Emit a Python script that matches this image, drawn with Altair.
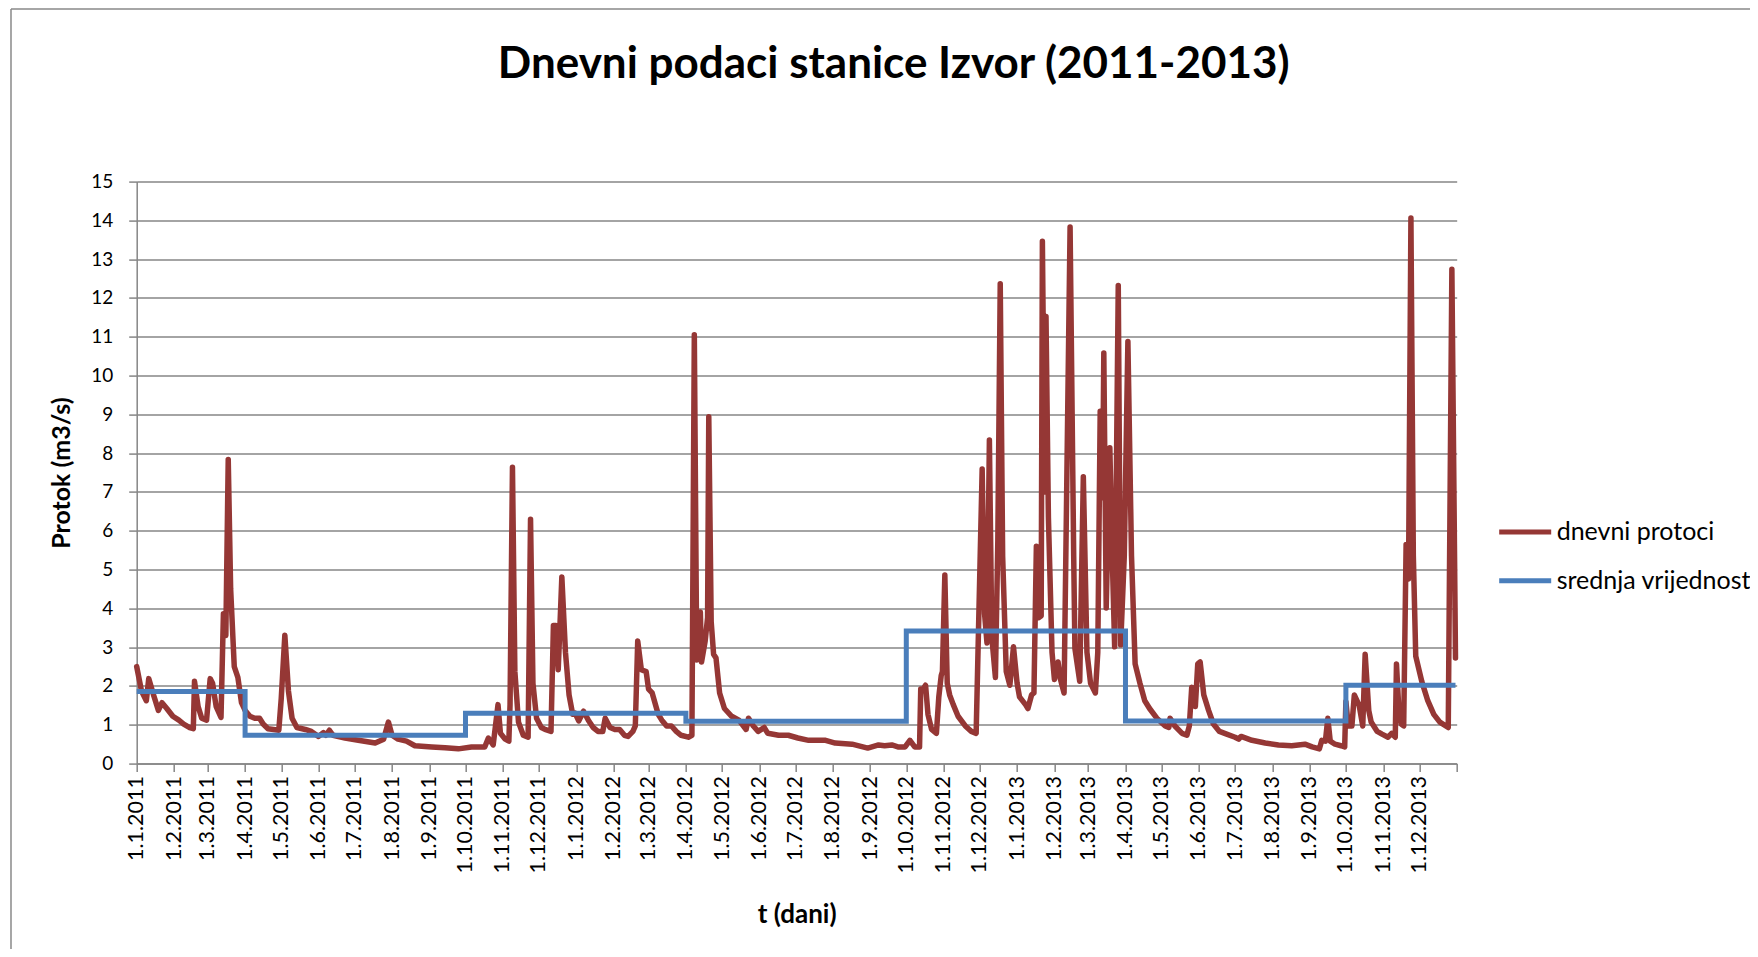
import altair as alt
import pandas as pd

title_text = "Dnevni podaci stanice Izvor (2011-2013)"
y_title = "Protok (m3/s)"
x_title = "t (dani)"
series_names = ["dnevni protoci", "srednja vrijednost"]
series_colors = ["#953735", "#4a7ebb"]
start_date = "2011-01-01"

# (day offset from 1.1.2011, daily discharge m3/s)
daily_2011 = [
    (0, 2.50), (4, 1.87), (8, 1.62), (10, 2.19), (14, 1.77), (18, 1.37), (21, 1.57),
    (25, 1.42), (30, 1.22), (35, 1.12), (39, 1.02), (44, 0.93), (47, 0.90), (48, 2.12),
    (51, 1.47), (54, 1.17), (58, 1.12), (61, 2.19), (63, 2.07), (66, 1.47), (70, 1.19),
    (72, 3.86), (74, 3.30), (76, 7.84), (78, 4.50), (81, 2.50), (84, 2.22), (87, 1.57),
    (90, 1.37), (94, 1.22), (98, 1.17), (102, 1.17), (105, 1.02), (109, 0.90), (118, 0.86),
    (120, 1.67), (123, 3.31), (126, 1.87), (129, 1.17), (133, 0.93), (140, 0.88), (145, 0.83),
    (151, 0.70), (155, 0.80), (157, 0.73), (160, 0.86), (163, 0.73), (173, 0.66), (184, 0.60),
    (198, 0.53), (205, 0.63), (209, 1.07), (212, 0.73), (217, 0.63), (224, 0.58), (231, 0.46),
    (245, 0.43), (256, 0.41), (267, 0.38), (278, 0.43), (289, 0.43), (292, 0.66), (296, 0.48),
    (300, 1.52), (302, 0.78), (306, 0.63), (309, 0.58), (310, 1.52), (312, 7.64), (314, 2.37),
    (317, 1.07), (321, 0.73), (325, 0.68), (327, 6.30), (329, 2.07), (332, 1.17), (336, 0.93),
    (339, 0.88), (344, 0.83), (346, 3.56), (348, 3.56), (350, 2.42), (353, 4.81), (356, 2.87),
    (359, 1.77), (362, 1.27), (364, 1.30),
]
daily_2012 = [
    (367, 1.10), (371, 1.35), (375, 1.12), (379, 0.93), (383, 0.83), (387, 0.83), (389, 1.17),
    (393, 0.93), (397, 0.88), (401, 0.88), (405, 0.73), (408, 0.70), (412, 0.83), (414, 0.97),
    (416, 3.16), (419, 2.42), (423, 2.37), (425, 1.92), (428, 1.82), (433, 1.27), (436, 1.12),
    (440, 0.97), (444, 0.97), (448, 0.83), (452, 0.73), (458, 0.68), (461, 0.73), (463, 11.05),
    (465, 2.67), (468, 3.91), (469, 2.62), (472, 3.16), (474, 3.76), (475, 8.94), (477, 3.66),
    (479, 2.82), (481, 2.72), (484, 1.82), (488, 1.42), (494, 1.22), (500, 1.12), (506, 0.88),
    (508, 1.17), (512, 0.97), (516, 0.83), (521, 0.93), (524, 0.78), (533, 0.73), (541, 0.73),
    (549, 0.66), (558, 0.60), (572, 0.60), (580, 0.53), (594, 0.50), (607, 0.40), (616, 0.48),
    (621, 0.46), (627, 0.48), (632, 0.43), (638, 0.43), (642, 0.60), (646, 0.43), (650, 0.43),
    (651, 1.92), (652, 1.87), (655, 2.02), (657, 1.27), (660, 0.88), (664, 0.78), (666, 1.72),
    (668, 2.27), (669, 2.37), (671, 4.86), (673, 2.07), (675, 1.77), (678, 1.52), (682, 1.22),
    (688, 0.97), (693, 0.83), (697, 0.78), (702, 7.59), (704, 3.86), (706, 3.11), (708, 8.34),
    (710, 3.26), (713, 2.22), (715, 5.75), (717, 12.37), (719, 5.35), (722, 2.37), (725, 2.02),
    (728, 3.01),
]
daily_2013 = [
    (731, 2.07), (733, 1.72), (738, 1.52), (740, 1.42), (743, 1.77), (745, 1.82), (747, 5.60),
    (749, 3.76), (751, 3.81), (752, 13.46), (754, 7.00), (755, 11.52), (757, 6.35), (760, 2.87),
    (762, 2.17), (765, 2.62), (767, 2.17), (770, 1.82), (775, 13.83), (778, 5.35), (779, 2.97),
    (783, 2.12), (786, 7.39), (789, 2.87), (792, 2.07), (796, 1.82), (798, 2.87), (800, 9.08),
    (802, 6.85), (803, 10.58), (805, 4.01), (808, 8.14), (810, 5.35), (812, 3.01), (815, 12.32),
    (817, 3.06), (820, 5.35), (823, 10.88), (826, 5.35), (829, 2.57), (833, 2.07), (837, 1.62),
    (841, 1.42), (847, 1.17), (854, 0.97), (857, 0.93), (858, 1.17), (862, 0.97), (868, 0.78),
    (872, 0.73), (874, 0.97), (876, 1.97), (879, 1.47), (881, 2.57), (883, 2.62), (886, 1.77),
    (890, 1.37), (894, 1.02), (899, 0.83), (905, 0.76), (912, 0.68), (915, 0.63), (917, 0.70),
    (926, 0.60), (937, 0.53), (948, 0.48), (959, 0.46), (970, 0.50), (976, 0.43), (982, 0.38),
    (984, 0.60), (987, 0.58), (989, 1.17), (991, 0.58), (995, 0.50), (1000, 0.46), (1003, 0.43),
    (1004, 1.60), (1006, 0.97), (1009, 0.97), (1011, 1.77), (1015, 1.50), (1018, 0.97),
    (1020, 2.82), (1023, 1.37), (1025, 1.07), (1030, 0.83), (1034, 0.76), (1039, 0.68),
    (1042, 0.78), (1045, 0.68), (1046, 2.57), (1048, 1.37), (1050, 1.02), (1052, 0.97),
    (1054, 5.65), (1056, 4.76), (1058, 14.06), (1060, 5.35), (1062, 2.77), (1067, 2.12),
    (1072, 1.62), (1077, 1.27), (1082, 1.07), (1089, 0.93), (1092, 12.74), (1095, 2.72),
]

# half-year mean values (step line)
mean_starts = ["2011-01-01", "2011-04-01", "2011-10-01", "2012-04-01",
               "2012-10-01", "2013-04-01", "2013-10-01", "2013-12-31"]
mean_values = [1.86, 0.73, 1.30, 1.09, 3.42, 1.10, 2.02, 2.02]

y_ticks = list(range(0, 16))
tick_years = [2011, 2012, 2013]
tick_months = list(range(1, 13))

base = pd.Timestamp(start_date)
rows = daily_2011 + daily_2012 + daily_2013
red_df = pd.DataFrame({
    "date": [(base + pd.Timedelta(days=d)).strftime("%Y-%m-%d") for d, _ in rows],
    "value": [v for _, v in rows],
    "series": series_names[0],
})
blue_df = pd.DataFrame({"date": mean_starts, "value": mean_values, "series": series_names[1]})

month_values = [alt.DateTime(year=y, month=m, date=1, utc=True) for y in tick_years for m in tick_months]
month_values.append(alt.DateTime(year=2014, month=1, date=1, utc=True))

x_enc = alt.X(
    "date:T",
    scale=alt.Scale(
        type="utc",
        domain=[alt.DateTime(year=2011, month=1, date=1, utc=True),
                alt.DateTime(year=2014, month=1, date=1, utc=True)],
        nice=False,
    ),
    axis=alt.Axis(
        values=month_values,
        labelExpr="utcyear(datum.value) > 2013 ? '' : utcFormat(datum.value, '%-d.%-m.%Y')",
        labelAngle=270,
        labelFlush=False,
        labelOverlap=False,
        labelPadding=4,
        labelFontSize=21.5,
        tickSize=8,
        grid=False,
        title=x_title,
        titleY=151,
        titleBaseline="middle",
        titleFontSize=26,
    ),
)
y_enc = alt.Y(
    "value:Q",
    scale=alt.Scale(domain=[0, 15], nice=False),
    axis=alt.Axis(
        values=y_ticks,
        tickSize=8,
        labelPadding=16,
        grid=True,
        title=y_title,
        titleX=-74.7,
        titleY=291,
        titleAngle=270,
        titleAlign="center",
        titleBaseline="middle",
        titleFontSize=25,
    ),
)
color_enc = alt.Color(
    "series:N",
    scale=alt.Scale(domain=series_names, range=series_colors),
    legend=alt.Legend(
        title=None,
        orient="none",
        legendX=1360,
        legendY=322,
        symbolType="stroke",
        symbolSize=2704,
        symbolStrokeWidth=5,
        labelFont="Lato",
        labelFontSize=25,
        labelColor="#000000",
        labelOffset=3,
        labelLimit=400,
        rowPadding=6.7,
    ),
)

red_line = alt.Chart(red_df).mark_line(
    strokeWidth=5.5, strokeJoin="round", strokeCap="round"
).encode(x=x_enc, y=y_enc, color=color_enc)

blue_line = alt.Chart(blue_df).mark_line(
    strokeWidth=5, interpolate="step-after"
).encode(x=x_enc, y=y_enc, color=color_enc)

frame_df = pd.DataFrame({"k": [0]})
border_left = alt.Chart(frame_df).mark_rule(color="#898989", strokeWidth=1.5).encode(
    x=alt.value(-125.7), y=alt.value(-172.6), y2=alt.value(800)
)
border_top = alt.Chart(frame_df).mark_rule(color="#898989", strokeWidth=1.5).encode(
    x=alt.value(-125.7), x2=alt.value(1625), y=alt.value(-172.6)
)

chart = alt.layer(border_left, border_top, red_line, blue_line).properties(
    width=1320,
    height=582,
    autosize=alt.AutoSizeParams(type="none"),
    padding={"left": 128.7, "top": 173.6, "right": 293, "bottom": 185},
    title=alt.TitleParams(
        text=title_text,
        font="Lato",
        fontSize=44,
        fontWeight="bold",
        color="#000000",
        anchor="middle",
        frame="group",
        baseline="alphabetic",
        offset=-114,
        dx=97,
    ),
).configure_view(stroke=None).configure_axis(
    domainColor="#868686",
    tickColor="#868686",
    gridColor="#868686",
    domainWidth=1.5,
    tickWidth=1.5,
    gridWidth=1.5,
    labelFont="Lato",
    labelFontSize=19,
    labelColor="#000000",
    titleFont="Lato",
    titleFontSize=20,
    titleFontWeight="bold",
    titleColor="#000000",
)

chart.save("out.html", embed_options={"renderer": "svg", "actions": False})
